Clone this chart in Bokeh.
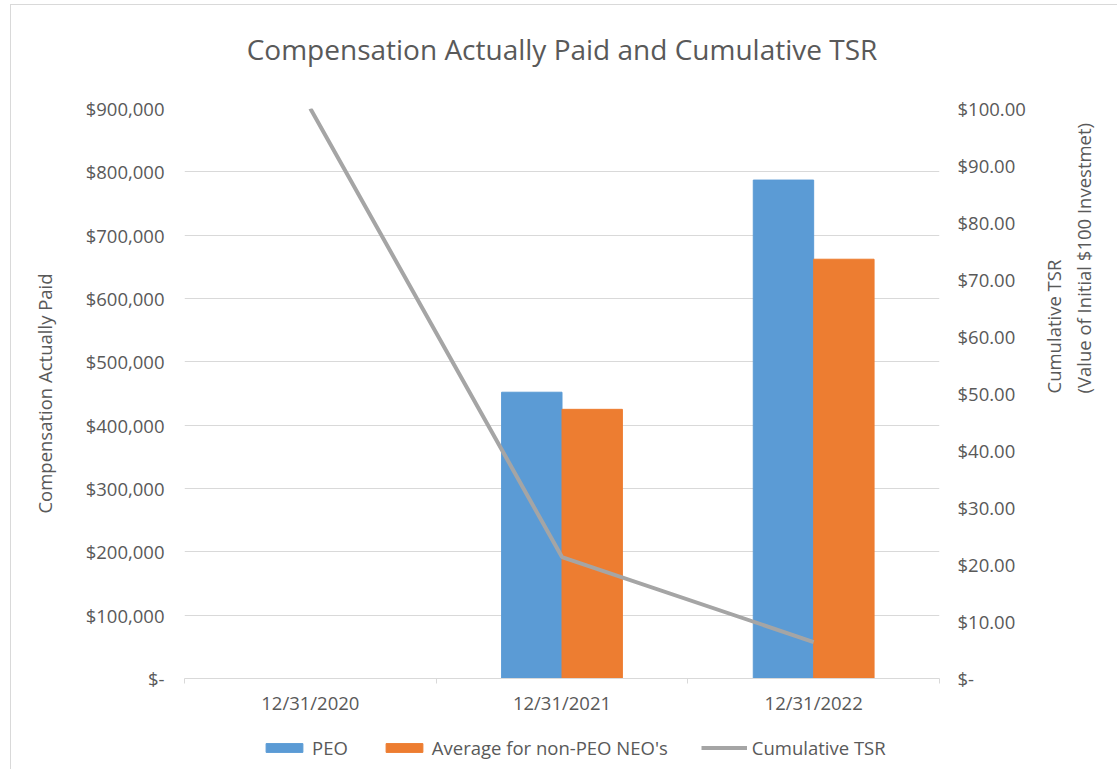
import math
from bokeh.plotting import figure
from bokeh.layouts import column
from bokeh.models import (ColumnDataSource, Range1d, LinearAxis, FixedTicker,
                          NumeralTickFormatter, Legend, LegendItem, Title)
from bokeh.transform import dodge
from bokeh.embed import file_html
from bokeh.resources import INLINE

categories = ["12/31/2020", "12/31/2021", "12/31/2022"]
peo = [float("nan"), 452000, 787000]
non_peo_avg = [float("nan"), 425000, 662000]
tsr = [100.0, 21.3, 6.4]
left_ticks = list(range(0, 900001, 100000))
right_ticks = list(range(0, 101, 10))
series_names = ["PEO", "Average for non-PEO NEO's", "Cumulative TSR"]

FONT = "Open Sans"
TXT = "#595959"
GRID = "#d9d9d9"
FS = "18.5px"
C_PEO, C_AVG, C_TSR = "#5B9BD5", "#ED7D31", "#A5A5A5"

xpos = [i + 0.5 for i in range(len(categories))]
src = ColumnDataSource(dict(x=xpos, peo=peo, avg=non_peo_avg, tsr=tsr))

p = figure(frame_width=754, frame_height=569, output_backend="svg", toolbar_location=None,
           x_range=Range1d(0, len(categories)), y_range=Range1d(0, left_ticks[-1]),
           min_border_left=173, min_border_right=170, min_border_top=103,
           min_border_bottom=40, title=None)
p.styles = {"border-left": "1px solid #d9d9d9", "border-top": "1px solid #d9d9d9",
            "margin-left": "10px", "margin-top": "4px"}
p.outline_line_color = None
p.background_fill_color = "white"
p.border_fill_color = "white"

# title (spacer first: closest to the frame)
p.add_layout(Title(text=" ", text_font_size="18px", text_font=FONT), "above")
p.add_layout(Title(text="Compensation Actually Paid and Cumulative TSR", align="center",
                   text_font=FONT, text_font_style="normal", text_font_size="28px",
                   text_color=TXT), "above")

p.extra_y_ranges = {"tsr": Range1d(0, right_ticks[-1])}

p.vbar(x=dodge("x", -0.12, range=p.x_range), top="peo", width=0.24, source=src, color=C_PEO)
p.vbar(x=dodge("x", 0.12, range=p.x_range), top="avg", width=0.24, source=src, color=C_AVG)
p.line(x="x", y="tsr", source=src, y_range_name="tsr", line_color=C_TSR, line_width=4)

# x axis
xa = p.xaxis[0]
xa.ticker = FixedTicker(ticks=xpos, minor_ticks=list(range(len(categories) + 1)))
xa.major_label_overrides = {x: c for x, c in zip(xpos, categories)}
xa.major_tick_line_color = None
xa.major_tick_out = 0
xa.major_tick_in = 0
xa.minor_tick_in = 0
xa.minor_tick_out = 5
xa.minor_tick_line_color = GRID
xa.axis_line_color = GRID
xa.major_label_text_font = FONT
xa.major_label_text_font_size = FS
xa.major_label_text_color = TXT
xa.major_label_standoff = 6

# left axis
ya = p.yaxis[0]
ya.ticker = FixedTicker(ticks=left_ticks)
ya.formatter = NumeralTickFormatter(format="$0,0")
ya.major_label_overrides = {0: "$-"}
ya.axis_line_color = None
ya.major_tick_line_color = None
ya.major_tick_out = 0
ya.major_tick_in = 0
ya.minor_tick_line_color = None
ya.major_label_text_font = FONT
ya.major_label_text_font_size = FS
ya.major_label_text_color = TXT
ya.major_label_standoff = 20
ya.axis_label = "Compensation Actually Paid"
ya.axis_label_text_font = FONT
ya.axis_label_text_font_size = FS
ya.axis_label_text_font_style = "normal"
ya.axis_label_text_color = TXT
ya.axis_label_standoff = 26

# right axis
ra = LinearAxis(y_range_name="tsr", ticker=FixedTicker(ticks=right_ticks),
                formatter=NumeralTickFormatter(format="$0.00"))
ra.major_label_overrides = {0: "$-"}
ra.axis_line_color = None
ra.major_tick_line_color = None
ra.major_tick_out = 0
ra.major_tick_in = 0
ra.minor_tick_line_color = None
ra.major_label_text_font = FONT
ra.major_label_text_font_size = FS
ra.major_label_text_color = TXT
ra.major_label_standoff = 18
ra.axis_label = "Cumulative TSR\n(Value of Initial $100 Investmet)"
ra.axis_label_text_font = FONT
ra.axis_label_text_font_size = FS
ra.axis_label_text_font_style = "normal"
ra.axis_label_text_color = TXT
ra.axis_label_standoff = 40
if "axis_label_orientation" in ra.properties():
    ra.axis_label_orientation = math.pi / 2
p.add_layout(ra, "right")

p.xgrid.grid_line_color = None
p.ygrid.grid_line_color = GRID
p.ygrid.ticker = ya.ticker

# legend strip under the chart (its own small figure, same frame alignment)
lf = figure(frame_width=754, frame_height=52, output_backend="svg", toolbar_location=None,
            x_range=Range1d(0, 1), y_range=Range1d(0, 1), x_axis_type=None, y_axis_type=None,
            min_border=0, min_border_left=173, title=None)
lf.styles = {"border-left": "1px solid #d9d9d9", "margin-left": "10px"}
lf.outline_line_color = None
lf.grid.grid_line_color = None
lf.background_fill_color = "white"
lf.border_fill_color = "white"
# one off-range point per stand-in glyph so the legend can draw its sample
proxy = ColumnDataSource(dict(x=[5, 6], y=[5, 6], b=[5, 5]))
g_peo = lf.vbar(x="x", top="y", bottom="b", width=0.1, source=proxy, color=C_PEO)
g_avg = lf.vbar(x="x", top="y", bottom="b", width=0.1, source=proxy, color=C_AVG)
g_tsr = lf.line(x="x", y="y", source=proxy, line_color=C_TSR, line_width=4)

legend = Legend(items=[LegendItem(label=n, renderers=[r])
                       for n, r in zip(series_names, [g_peo, g_avg, g_tsr])],
                orientation="horizontal", location=(77, 9))
legend.border_line_color = None
legend.background_fill_alpha = 0
legend.label_text_font = FONT
legend.label_text_font_size = FS
legend.label_text_color = TXT
legend.glyph_width = 46
legend.glyph_height = 11
legend.spacing = 33
legend.label_standoff = 5
legend.padding = 0
legend.margin = 0
lf.add_layout(legend, "center")

layout = column(p, lf, spacing=0)
open("out.html", "w").write(file_html(layout, INLINE))
